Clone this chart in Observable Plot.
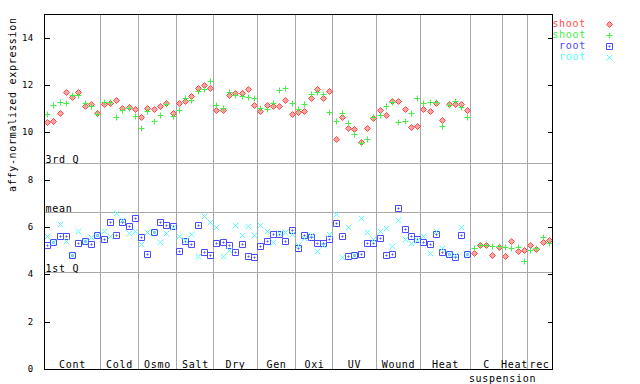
<!DOCTYPE html>
<html><head><meta charset="utf-8">
<script src="https://cdn.jsdelivr.net/npm/d3@7"></script>
<script src="https://cdn.jsdelivr.net/npm/@observablehq/plot@0.6"></script>
<style>
body{margin:0;background:#fff;}
#chart{position:relative;width:640px;height:384px;}
#chart svg text{letter-spacing:0.7px;}
#chart svg g[aria-label="y-axis tick label"] text{font-size:9px;letter-spacing:0.3px;}
</style>
</head><body><div id="chart"></div>
<script>
// ---- data ----
const groupNames = ["Cont","Cold","Osmo","Salt","Dry","Gen","Oxi","UV","Wound","Heat","C","Heat","rec"];
const groupSizes = [9,6,6,6,7,6,6,7,7,8,5,4,4];
const suspensionLabel = "suspension";
const yTicks = [0,2,4,6,8,10,12,14];
const guideNames = ["3rd Q","mean","1st Q"];
const guideValues = [8.69, 6.62, 4.08];
const seriesNames = ["shoot","shoot","root","root"];
const yLabel = "affy-normalized expression";

const shootRed = [
  10.45,10.50,10.80,11.70,11.48,11.70,11.11,11.20,10.80,
  11.21,11.23,11.38,11.04,11.08,11.00,
  10.65,11.04,10.98,11.13,11.25,10.80,
  11.24,11.34,11.52,11.89,12.01,11.87,
  10.94,10.94,11.58,11.68,11.68,11.83,11.17,
  10.89,11.17,11.11,11.11,11.37,10.77,
  10.85,10.90,11.45,11.85,11.45,11.75,
  9.72,10.64,10.19,10.14,9.61,10.19,10.61,
  10.93,10.75,11.34,11.34,10.98,10.24,10.28,
  10.98,10.90,11.24,10.52,11.20,11.20,11.20,10.94,
  4.90,5.24,5.24,4.82,5.16,
  4.79,5.41,4.99,5.03,
  5.24,5.07,5.37,5.47
];
const shootGreen = [
  10.79,11.17,11.30,11.24,11.56,11.59,11.24,11.11,10.79,
  11.30,11.30,10.65,10.95,11.04,10.69,
  10.20,10.89,10.48,10.75,11.21,10.69,
  10.95,11.45,11.37,11.75,11.83,12.18,
  11.17,11.03,11.72,11.58,11.54,11.49,11.45,
  11.03,10.98,11.24,11.79,11.89,11.23,
  10.98,11.20,11.62,11.70,11.62,10.86,
  10.48,10.82,10.41,9.93,9.55,9.72,10.65,
  10.75,11.13,11.28,10.44,10.48,10.82,11.45,
  11.24,11.28,11.28,10.27,11.17,11.34,11.07,10.65,
  5.11,5.24,5.24,5.20,5.20,
  5.16,5.11,5.16,4.57,
  5.03,5.11,5.58,5.32
];
const rootBlue = [
  5.23,5.35,5.61,5.61,4.80,5.31,5.40,5.27,5.65,
  5.48,6.20,5.66,6.20,6.03,6.38,
  5.56,4.85,5.77,6.20,6.07,6.03,
  4.97,5.40,5.27,6.07,4.93,4.80,
  5.31,5.35,5.23,4.93,5.27,4.76,4.72,
  5.18,5.40,5.69,5.69,5.40,5.86,
  5.10,5.65,5.56,5.31,5.31,5.48,
  6.15,5.61,4.76,4.80,4.85,5.31,5.31,
  5.52,4.80,4.85,6.79,5.90,5.61,5.48,
  5.35,5.27,5.69,4.93,4.85,4.72,5.65,4.85
];
const rootCyan = [
  5.62,5.35,6.13,5.40,4.80,5.82,5.40,5.56,5.65,
  5.82,5.62,6.58,6.30,5.73,5.82,
  5.27,5.77,5.77,5.35,5.73,5.99,
  5.61,5.45,5.69,4.76,6.45,6.20,
  5.99,4.76,5.02,6.07,5.65,6.03,5.65,
  6.07,5.82,5.35,5.73,5.77,5.69,
  5.23,5.52,5.65,4.97,5.23,5.69,
  6.53,4.72,5.99,4.80,6.37,5.77,5.48,
  5.82,5.94,5.18,6.28,5.48,5.31,5.44,
  5.61,4.89,5.82,5.10,4.85,4.80,5.99,4.85
];

// ---- styles ----
const FONT = "'DejaVu Sans Mono', monospace";
const colors = ["#ff4a4a", "#44ee44", "#4a4aff", "#55ffff"];
const GRID = "#a8a8a8";

const symDiamond = {draw(c){c.moveTo(0,-3);c.lineTo(3,0);c.lineTo(0,3);c.lineTo(-3,0);c.closePath();}};
const symPlus = {draw(c){c.moveTo(-3,0);c.lineTo(3,0);c.moveTo(0,-3);c.lineTo(0,3);}};
const symSquare = {draw(c){c.rect(-3,-3,6,6);c.rect(-0.5,-0.5,1,1);}};
const symCross = {draw(c){c.moveTo(-2.8,-2.8);c.lineTo(2.8,2.8);c.moveTo(2.8,-2.8);c.lineTo(-2.8,2.8);}};
const symbols = [symDiamond, symPlus, symSquare, symCross];

// ---- derived tables ----
let acc = 0;
const groups = groupNames.map((name, k) => {
  const g = {name, start: acc, mid: acc + (groupSizes[k] - 1) / 2};
  acc += groupSizes[k];
  return g;
});
const boundaries = groups.slice(1).map(g => g.start - 0.5);
const suspensionX = groups[11].start - 0.5;
const toRows = arr => arr.map((v, i) => ({i, v}));
const series = [shootRed, shootGreen, rootBlue, rootCyan].map(toRows);
const guides = guideNames.map((name, k) => ({name, v: guideValues[k]}));

const dotMark = (k) => Plot.dot(series[k], {
  x: "i", y: "v", symbol: () => symbols[k], r: 4,
  stroke: colors[k], strokeWidth: 1,
  fill: k === 0 ? "url(#chk)" : "none"
});

const chart = Plot.plot({
  width: 640, height: 384,
  marginLeft: 44, marginRight: 88, marginTop: 14, marginBottom: 15,
  x: {domain: [-0.5, 80.5], axis: null, round: true},
  y: {domain: [0, 15], round: true},
  style: {fontFamily: FONT, fontSize: "10px", color: "black", background: "white", overflow: "visible"},
  marks: [
    Plot.ruleX(boundaries, {stroke: GRID, strokeWidth: 1}),
    Plot.ruleY(guides, {y: "v", stroke: GRID, strokeWidth: 1}),
    Plot.text(guides, {y: "v", text: "name", frameAnchor: "left", textAnchor: "start", lineAnchor: "bottom", dx: 1, dy: -1, fill: "black"}),
    Plot.text(groups, {x: "mid", text: "name", frameAnchor: "bottom", lineAnchor: "bottom", dy: -2, fill: "black"}),
    Plot.text([suspensionLabel], {x: () => suspensionX, text: d => d, frameAnchor: "bottom", lineAnchor: "top", dy: 5, fill: "black"}),
    Plot.text([yLabel], {text: d => d, frameAnchor: "left", dx: -32, rotate: -90, fill: "black"}),
    Plot.axisY(yTicks, {anchor: "left", tickSize: -6, tickPadding: 17, label: null, stroke: "black"}),
    Plot.axisY(yTicks, {anchor: "right", tickSize: -5, tickFormat: () => "", label: null, stroke: "black"}),
    dotMark(0), dotMark(1), dotMark(2), dotMark(3),
    Plot.frame({stroke: "black", strokeWidth: 1})
  ]
});
document.getElementById("chart").appendChild(chart);

// checkered fill for the shoot diamonds
const svg = d3.select(chart);
const pat = svg.insert("defs", ":first-child").append("pattern")
  .attr("id", "chk").attr("width", 2).attr("height", 2).attr("patternUnits", "userSpaceOnUse");
pat.append("rect").attr("width", 2).attr("height", 2).attr("fill", "white");
pat.append("rect").attr("width", 1).attr("height", 1).attr("fill", colors[0]);
pat.append("rect").attr("x", 1).attr("y", 1).attr("width", 1).attr("height", 1).attr("fill", colors[0]);

// ---- legend (outside the plotting frame, top-right) ----
const lg = svg.append("g").attr("font-family", FONT).attr("font-size", 10);
seriesNames.forEach((name, k) => {
  const y = 23.5 + k * 11;
  lg.append("text").attr("x", 586).attr("y", y).attr("dy", "0.32em")
    .attr("text-anchor", "end").attr("fill", colors[k]).text(name);
  const p = d3.path(); symbols[k].draw(p);
  lg.append("path").attr("transform", `translate(609.5,${Math.round(y) + 0.5})`).attr("d", p.toString())
    .attr("stroke", colors[k]).attr("fill", k === 0 ? "url(#chk)" : "none");
});
</script>
</body></html>
